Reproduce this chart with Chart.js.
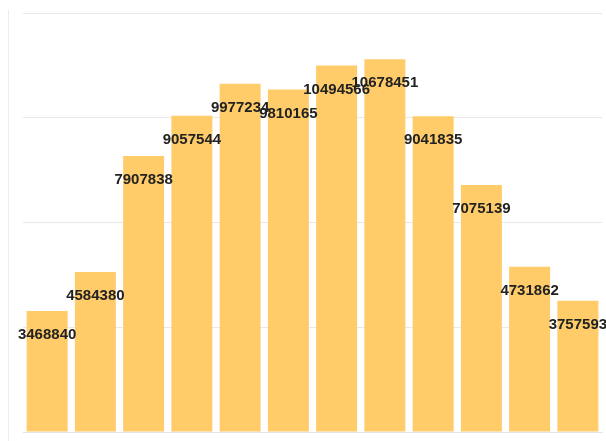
<!DOCTYPE html>
<html>
<head>
<meta charset="utf-8">
<script src="https://cdn.jsdelivr.net/npm/chart.js@4/dist/chart.umd.min.js"></script>
<style>
  html, body { margin: 0; padding: 0; background: #fff; }
  #wrap { position: relative; width: 606px; height: 441px; }
  #edge { position: absolute; left: 8px; top: 10px; bottom: 0; border-left: 1px solid #ececec; }
  canvas { display: block; }
</style>
</head>
<body>
<div id="wrap">
  <div id="edge"></div>
  <canvas id="chart" width="606" height="441"></canvas>
</div>
<script>
const months = ['Jan', 'Feb', 'Mar', 'Apr', 'May', 'Jun', 'Jul', 'Aug', 'Sep', 'Oct', 'Nov', 'Dec']
const values = [3468840, 4584380, 7907838, 9057544, 9977234, 9810165, 10494566, 10678451, 9041835, 7075139, 4731862, 3757593]
const yMax = 12000000
const yStep = 3000000

// draws the value text just under the top of every bar
const barLabels = {
    id: 'barLabels',
    afterDatasetsDraw(chart) {
        const ctx = chart.ctx
        const meta = chart.getDatasetMeta(0)
        ctx.save()
        ctx.font = 'bold 15px "Liberation Sans", Arial, sans-serif'
        ctx.fillStyle = '#222'
        ctx.textAlign = 'center'
        ctx.textBaseline = 'middle'
        meta.data.forEach((bar, i) => {
            ctx.fillText(values[i], bar.x, bar.y + 24)
        })
        ctx.restore()
    }
}

new Chart(document.querySelector('#chart').getContext('2d'), {
    type: 'bar',
    data: {
        labels: months,
        datasets: [{
            data: values,
            backgroundColor: '#FFCC69',
            borderWidth: 0,
            barPercentage: 0.85,
            categoryPercentage: 1
        }]
    },
    options: {
        responsive: false,
        animation: false,
        layout: { padding: { left: 23, top: 13, right: 4, bottom: 1 } },
        plugins: { legend: { display: false }, tooltip: { enabled: false } },
        scales: {
            x: {
                ticks: { display: false },
                grid: { display: false },
                border: { display: true, color: '#e4e4e4' }
            },
            y: {
                min: 0,
                max: yMax,
                ticks: { display: false, stepSize: yStep },
                grid: { color: '#e8e8e8', drawTicks: false },
                border: { display: false }
            }
        }
    },
    plugins: [barLabels]
})
</script>
</body>
</html>
